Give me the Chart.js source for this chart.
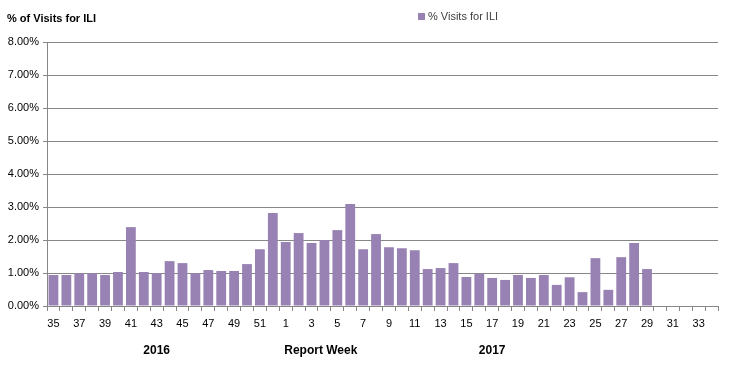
<!DOCTYPE html>
<html>
<head>
<meta charset="utf-8">
<script src="https://cdn.jsdelivr.net/npm/chart.js@4"></script>
<style>
  html, body { margin: 0; padding: 0; background: #fff; }
  #wrap { width: 730px; height: 366px; }
</style>
</head>
<body>
<div id="wrap"><canvas id="iliChart" width="730" height="366"></canvas></div>
<script>
// report weeks: 35-52 of 2016, then 1-34 of 2017
const weeks2016 = [35, 36, 37, 38, 39, 40, 41, 42, 43, 44, 45, 46, 47, 48, 49, 50, 51, 52];
const weeks2017 = [1, 2, 3, 4, 5, 6, 7, 8, 9, 10, 11, 12, 13, 14, 15, 16, 17, 18, 19, 20, 21, 22, 23, 24, 25, 26, 27, 28, 29, 30, 31, 32, 33, 34];
const weekLabels = weeks2016.concat(weeks2017).map(String);

// % visits for ILI (percent), weeks 30-34 of 2017 not reported yet
const iliValues = [
    0.94, 0.94, 0.99, 0.99, 0.94, 1.03, 2.39, 1.03, 1.00, 1.36, 1.30, 0.99, 1.09, 1.06, 1.06, 1.27, 1.72, 2.82,
    1.94, 2.21, 1.91, 2.00, 2.30, 3.09, 1.72, 2.18, 1.78, 1.75, 1.69, 1.12, 1.15, 1.30, 0.88, 0.98, 0.85,
    0.79, 0.94, 0.85, 0.94, 0.64, 0.87, 0.42, 1.45, 0.49, 1.48, 1.91, 1.12, null, null, null, null, null
];

const yearLabels = [
    { text: "2016", week: "43" },
    { text: "Report Week", week: "52" },
    { text: "2017", week: "17" }
];

const barColor = "#9882B3";
const gridColor = "#878787";
const font = "'Liberation Sans', Arial, sans-serif";

// extra texts: axis title at top-left, legend, year labels below the weeks
const extraText = {
    id: "extraText",
    afterDraw(chart) {
        const c = chart.ctx;
        const area = chart.chartArea;
        const x = chart.scales.x;
        c.save();
        c.fillStyle = "#000";
        c.textBaseline = "middle";
        c.font = "bold 11px " + font;
        c.textAlign = "left";
        c.fillText("% of Visits for ILI", 7, 19);

        // legend
        c.fillStyle = barColor;
        c.fillRect(418, 13, 7, 7);
        c.fillStyle = "#404040";
        c.font = "11px " + font;
        c.fillText("% Visits for ILI", 428, 17);

        // year / axis labels
        c.fillStyle = "#000";
        c.font = "bold 12px " + font;
        c.textAlign = "center";
        yearLabels.forEach(function (item) {
            let idx = weekLabels.indexOf(item.week, item.text === "2017" ? 18 : 0);
            let px = x.getPixelForValue(idx);
            if (item.text === "Report Week") px = px + 48;
            c.fillText(item.text, px, area.bottom + 45);
        });
        c.restore();
    }
};

const ctx = document.getElementById("iliChart").getContext("2d");

let iliChart = new Chart(ctx, {
    type: "bar",
    data: {
        labels: weekLabels,
        datasets: [
            {
                label: "% Visits for ILI",
                data: iliValues,
                backgroundColor: barColor,
                borderWidth: 0,
                barPercentage: 0.76,
                categoryPercentage: 1.0
            }
        ]
    },
    options: {
        responsive: false,
        animation: false,
        layout: { padding: { top: 42, right: 12, bottom: 0, left: 0 } },
        plugins: {
            legend: { display: false },
            tooltip: { enabled: false }
        },
        scales: {
            x: {
                afterFit: function (s) { s.height = 60; },
                grid: {
                    display: true,
                    offset: true,
                    drawOnChartArea: false,
                    drawTicks: true,
                    tickLength: 5,
                    color: gridColor
                },
                border: { display: true, color: gridColor, width: 1 },
                ticks: {
                    autoSkip: false,
                    maxRotation: 0,
                    minRotation: 0,
                    padding: 6,
                    color: "#000",
                    font: { family: font, size: 11 },
                    callback: function (value, index) {
                        return index % 2 === 0 ? this.getLabelForValue(value) : "";
                    }
                }
            },
            y: {
                min: 0,
                max: 8,
                afterFit: function (s) { s.width = 47; },
                grid: {
                    color: gridColor,
                    lineWidth: 1,
                    drawTicks: true,
                    tickLength: 4
                },
                border: { display: true, color: gridColor, width: 1 },
                ticks: {
                    stepSize: 1,
                    padding: 4,
                    color: "#000",
                    font: { family: font, size: 11 },
                    callback: function (value) { return value.toFixed(2) + "%"; }
                }
            }
        }
    },
    plugins: [extraText]
});
</script>
</body>
</html>
